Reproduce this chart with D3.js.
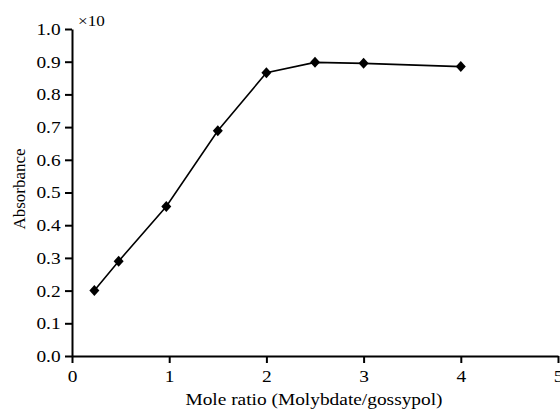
<!DOCTYPE html>
<meta charset="utf-8">
<style>
body { margin: 0; background: #fff; }
text { font-family: "Liberation Serif", "Times New Roman", serif; fill: #000; }
.axis path, .axis line { stroke: #000; stroke-width: 2; }
.axis text { font-size: 17px; }
</style>
<div id="chart"></div>
<script src="https://d3js.org/d3.v7.min.js"></script>
<script>
// data
var moleRatio = [0.23, 0.48, 0.97, 1.5, 2.0, 2.5, 3.0, 4.0];
var absorbance = [0.20, 0.29, 0.457, 0.689, 0.866, 0.898, 0.895, 0.885];
var xTicks = [0, 1, 2, 3, 4, 5];
var yTicks = [0, 0.1, 0.2, 0.3, 0.4, 0.5, 0.6, 0.7, 0.8, 0.9, 1.0];

var width = 560, height = 409;
var margin = {top: 29, right: 2, bottom: 53, left: 72};
var stretch = "scale(1.14,1)";  // the original lettering is a bit wide

var svg = d3.select("#chart").append("svg")
    .attr("width", width)
    .attr("height", height);

var x = d3.scaleLinear().domain([0, 5]).range([margin.left, width - margin.right]);
var y = d3.scaleLinear().domain([0, 1]).range([height - margin.bottom, margin.top]);

// axes
svg.append("g")
    .attr("class", "axis")
    .attr("transform", "translate(0," + y(0) + ")")
    .call(d3.axisBottom(x).tickValues(xTicks).tickFormat(d3.format("d")).tickSizeInner(7).tickSizeOuter(0).tickPadding(7))
    .selectAll("text")
      .attr("transform", stretch);

svg.append("g")
    .attr("class", "axis")
    .attr("transform", "translate(" + x(0) + ",0)")
    .call(d3.axisLeft(y).tickValues(yTicks).tickFormat(d3.format(".1f")).tickSizeInner(7).tickSizeOuter(0).tickPadding(3))
    .selectAll("text")
      .attr("transform", stretch);

// axis titles
svg.append("text")
    .attr("transform", "translate(314,405)" + stretch)
    .attr("text-anchor", "middle")
    .style("font-size", "17px")
    .text("Mole ratio (Molybdate/gossypol)");

svg.append("text")
    .attr("transform", "translate(25,189)rotate(-90)")
    .attr("text-anchor", "middle")
    .style("font-size", "17px")
    .text("Absorbance");

svg.append("text")
    .attr("transform", "translate(78,26)" + stretch)
    .style("font-size", "15px")
    .text("×10");

// line + markers
var pts = moleRatio.map(function(d, i) { return [d, absorbance[i]]; });

svg.append("path")
    .datum(pts)
    .attr("fill", "none")
    .attr("stroke", "#000")
    .attr("stroke-width", 1.6)
    .attr("d", d3.line().x(function(d) { return x(d[0]); }).y(function(d) { return y(d[1]); }));

svg.selectAll(".pt")
    .data(pts)
    .enter()
    .append("path")
    .attr("class", "pt")
    .attr("transform", function(d) { return "translate(" + x(d[0]) + "," + y(d[1]) + ")"; })
    .attr("d", "M0,-5.5L5,0L0,5.5L-5,0Z")
    .attr("fill", "#000");
</script>
